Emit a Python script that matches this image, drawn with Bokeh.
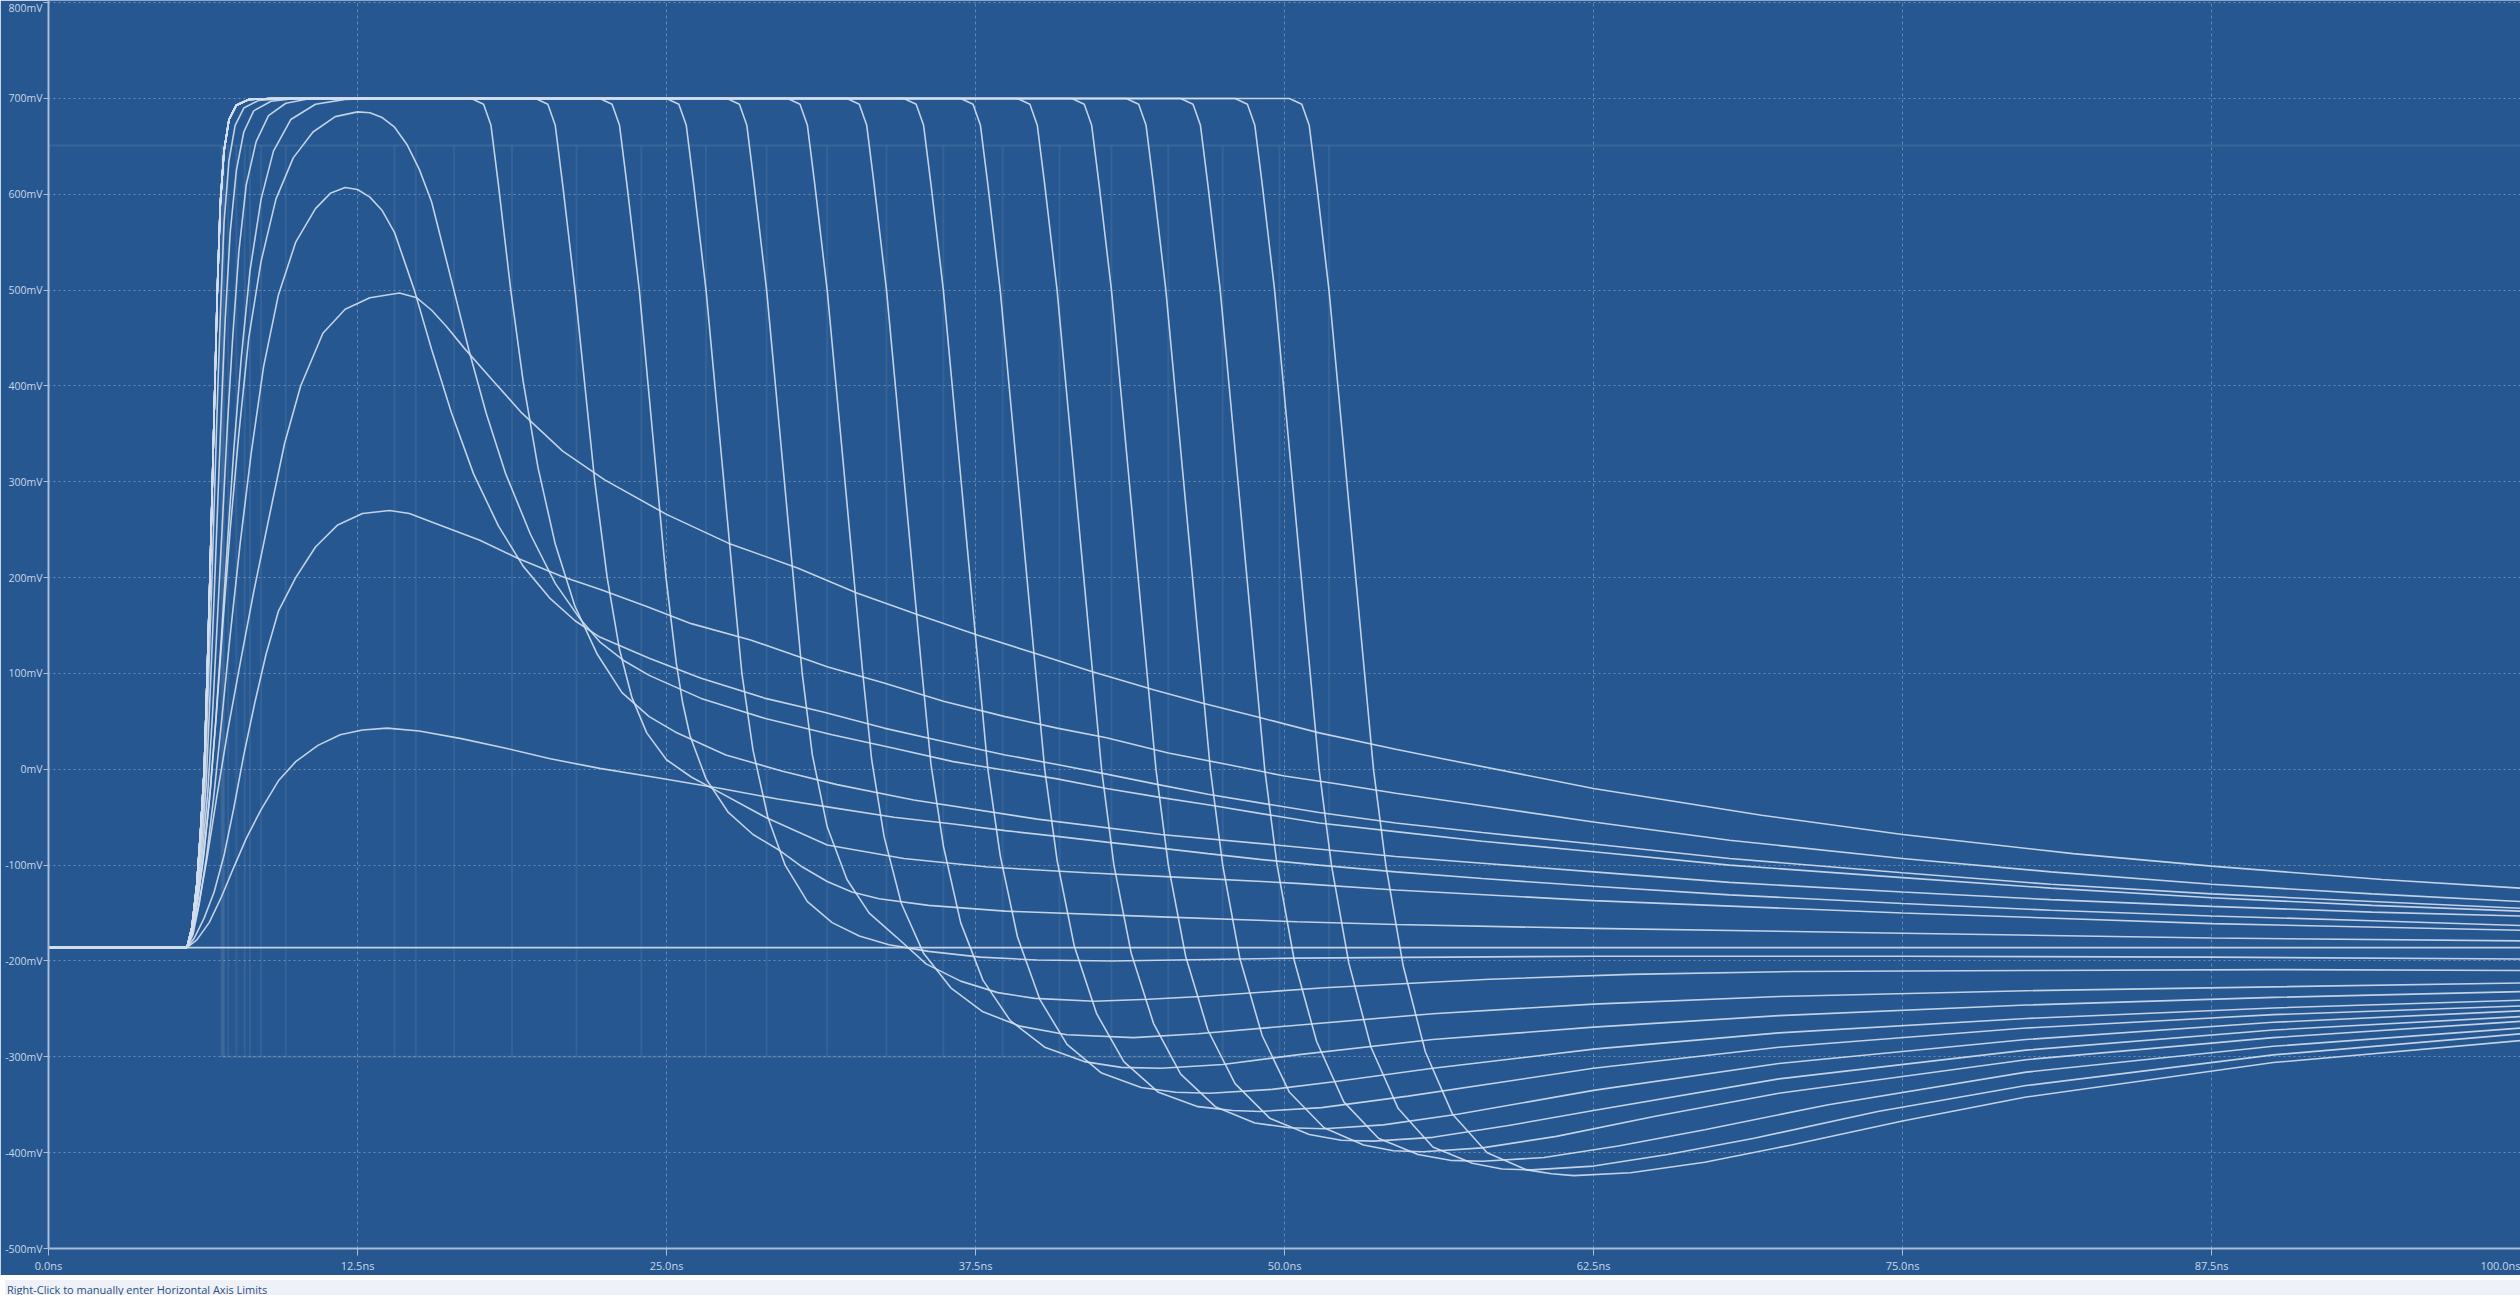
from bokeh.plotting import figure
from bokeh.models import Range1d, FixedTicker, Div
from bokeh.layouts import column
from bokeh.embed import file_html
from bokeh.resources import INLINE

# ---------------- axis ticks / labels ----------------
X_TICKS = [0, 12.5, 25, 37.5, 50, 62.5, 75, 87.5, 100]
X_LABELS = ["0.0ns", "12.5ns", "25.0ns", "37.5ns", "50.0ns", "62.5ns", "75.0ns", "87.5ns", "100.0ns"]
Y_TICKS = [-500, -400, -300, -200, -100, 0, 100, 200, 300, 400, 500, 600, 700, 800]
Y_LABELS = ["-500mV", "-400mV", "-300mV", "-200mV", "-100mV", "0mV", "100mV",
            "200mV", "300mV", "400mV", "500mV", "600mV", "700mV", "800mV"]

# ---------------- traces (time in ns, value in mV) ----------------
BASE_NS = [0, 100]
BASE_MV = [-186, -186]

A_NS = [0, 5.6, 6.0, 6.5, 7.0, 7.5, 8.0, 8.6, 9.3, 10.0, 10.9, 11.8, 12.7, 13.7, 15.0, 16.7, 18.5, 20.3, 22.3, 24.7,
        27.2, 29.5, 31.7, 34.2, 36.6, 38.7, 40.8, 42.8, 44.9, 46.9, 49.0, 51.4, 54.5, 58.0, 62.5, 68.0, 75.0, 81.0,
        87.5, 94.0, 100]
A_MV = [-186, -186, -178, -160, -133, -102, -72, -42, -12, 8, 25, 36, 41, 43, 40, 32, 22, 11, 1, -9,
        -20, -31, -40, -50, -57, -64, -70, -76, -82, -88, -94, -100, -107, -114, -122, -131, -140, -147,
        -153, -158, -163]

B_NS = [0, 5.6, 5.9, 6.3, 6.7, 7.1, 7.5, 7.9, 8.35, 8.8, 9.3, 10.0, 10.8, 11.7, 12.7, 13.8, 14.6, 15.5, 17.45, 19.0,
        20.8, 22.3, 24.2, 26.0, 28.4, 30.3, 31.5, 33.8, 36.2, 38.7, 40.8, 42.8, 45.3, 47.7, 50.0, 52.1, 54.5, 58.0,
        62.5, 68.0, 75.0, 81.0, 87.5, 94.0, 100]
B_MV = [-186, -186, -176, -155, -128, -90, -40, 15, 70, 120, 165, 200, 232, 255, 267, 270, 267, 258, 239, 220,
        201, 188, 170, 152, 135, 118, 107, 90, 71, 55, 43, 33, 17, 5, -7, -15, -25, -38,
        -55, -74, -93, -107, -120, -130, -138]

C_NS = [0, 5.6, 5.8, 6.05, 6.4, 6.8, 7.25, 7.75, 8.3, 8.9, 9.55, 10.2, 11.1, 12.0, 13.0, 14.2, 14.9, 15.5, 16.1, 16.8,
        18.0, 19.1, 20.8, 22.5, 25.0, 27.5, 30.3, 32.7, 35.2, 37.6, 39.9, 42.2, 44.7, 46.7, 49.0, 51.4, 54.5, 56.4,
        62.5, 69.3, 75.0, 81.9, 87.5, 94.4, 100]
C_MV = [-186, -186, -172, -145, -95, -30, 40, 110, 185, 260, 340, 400, 455, 480, 492, 497, 492, 479, 462, 440,
        405, 373, 332, 302, 266, 236, 210, 184, 161, 140, 121, 102, 83, 69, 54, 38, 21, 11,
        -20, -48, -68, -88, -101, -115, -124]

D_NS = [0, 5.6, 5.85, 6.1, 6.4, 6.7, 7.0, 7.35, 7.75, 8.2, 8.7, 9.3, 10.0, 10.8, 11.4, 12.0, 12.5, 13.0, 13.5, 14.0,
        14.8, 15.5, 16.3, 17.2, 18.2, 19.2, 20.3, 21.3, 22.3, 24.3, 26.4, 29.0, 31.3, 33.8, 36.2, 38.7, 40.8, 42.8,
        44.9, 46.9, 49.0, 51.4, 54.5, 58.0, 62.5, 68.0, 75.0, 81.0, 87.5, 94.0, 100]
D_MV = [-186, -186, -172, -140, -90, -25, 50, 140, 235, 330, 420, 495, 550, 585, 601, 607, 605, 597, 583, 560,
        500, 438, 372, 308, 254, 212, 178, 155, 138, 116, 95, 74, 60, 43, 29, 15, 5, -5,
        -16, -26, -35, -45, -56, -66, -78, -93, -108, -120, -130, -138, -145]

E_NS = [0, 5.6, 5.8, 6.05, 6.3, 6.55, 6.8, 7.05, 7.35, 7.7, 8.1, 8.6, 9.2, 9.9, 10.7, 11.6, 12.5, 13.0, 13.5, 14.0,
        14.5, 15.0, 15.5, 16.4, 17.0, 17.7, 18.5, 19.5, 20.5, 21.5, 22.3, 23.3, 24.3, 26.4, 29.0, 31.7, 34.2, 36.6,
        38.7, 40.8, 42.8, 44.9, 46.9, 49.0, 51.4, 54.5, 58.0, 62.5, 68.0, 75.0, 81.0, 87.5, 94.0, 100]
E_MV = [-186, -186, -170, -135, -85, -20, 60, 150, 250, 350, 450, 530, 595, 638, 665, 681, 686, 685, 680, 670,
        652, 626, 592, 500, 438, 372, 308, 245, 194, 157, 133, 113, 98, 74, 53, 36, 22, 8,
        -1, -10, -20, -29, -37, -46, -56, -65, -75, -86, -100, -113, -124, -134, -142, -148]

F_NS = [0, 5.6, 5.8, 6.0, 6.25, 6.5, 6.75, 7.0, 7.25, 7.5, 7.8, 8.15, 8.6, 9.1, 9.8, 10.8, 12.0, 13.5, 17.1, 17.6,
        17.9, 18.2, 18.7, 19.2, 19.8, 20.5, 21.3, 22.2, 23.2, 24.3, 25.35, 27.4, 29.7, 31.9, 35.0, 40.0, 45.0, 50.5,
        54.5, 58.0, 62.5, 68.0, 75.0, 81.0, 87.5, 94.0, 100]
F_MV = [-186, -186, -173, -142, -95, -35, 45, 140, 240, 335, 430, 520, 595, 645, 678, 694, 699, 700, 700, 694,
        672, 610, 500, 405, 315, 235, 170, 120, 80, 55, 39, 15, -2, -16, -32, -52, -68, -81,
        -91, -98, -107, -118, -128, -136, -143, -149, -153]

G_NS = [0, 5.6, 5.8, 6.0, 6.22, 6.44, 6.64, 6.84, 7.04, 7.24, 7.45, 7.7, 8.0, 8.4, 8.9, 9.6, 10.6, 19.7, 20.2, 20.5,
        20.8, 21.3, 21.7, 22.1, 22.6, 23.1, 23.6, 24.2, 25.0, 26.0, 27.0, 29.0, 31.5, 34.6, 38.0, 42.0, 46.0, 50.5,
        54.5, 62.5, 75.0, 87.5, 100]
G_MV = [-186, -186, -172, -138, -88, -25, 60, 160, 260, 360, 450, 540, 610, 655, 682, 695, 700, 700, 694, 672,
        610, 500, 400, 300, 200, 125, 75, 38, 10, -8, -22, -50, -79, -93, -102, -108, -113, -119,
        -126, -137, -150, -161, -168]

H_NS = [0, 5.6, 5.8, 6.0, 6.2, 6.38, 6.54, 6.7, 6.85, 7.0, 7.15, 7.35, 7.6, 7.9, 8.3, 9.0, 10.0, 22.3, 22.8, 23.1,
        23.4, 23.9, 24.26, 24.62, 24.98, 25.4, 25.65, 25.95, 26.6, 27.5, 28.5, 29.6, 30.5, 31.5, 32.5, 33.6, 35.6, 38.7,
        45.0, 50.5, 54.5, 62.5, 75.0, 87.5, 100]
H_MV = [-186, -186, -170, -133, -80, -15, 80, 180, 280, 380, 470, 560, 625, 665, 687, 697, 700, 700, 694, 672,
        610, 500, 400, 300, 200, 110, 70, 35, -10, -45, -68, -85, -102, -117, -128, -135, -142, -148,
        -154, -159, -162, -166, -171, -176, -179]

I_NS = [0, 5.6, 5.8, 6.0, 6.17, 6.33, 6.47, 6.6, 6.72, 6.84, 6.96, 7.1, 7.3, 7.55, 7.9, 8.5, 9.5, 25.0, 25.5, 25.8,
        26.1, 26.6, 26.96, 27.32, 27.68, 28.05, 28.5, 29.1, 29.8, 30.7, 31.7, 32.8, 34.0, 35.6, 37.7, 40.0, 43.0, 50.5,
        62.5, 75.0, 87.5, 100]
I_MV = [-186, -186, -168, -128, -75, -10, 90, 190, 290, 390, 480, 570, 635, 672, 690, 698, 700, 700, 694, 672,
        610, 500, 400, 300, 200, 100, 20, -50, -100, -138, -160, -174, -183, -190, -196, -199, -200, -197,
        -195, -195, -196, -198]

# common leading edge of the saturated (wide) pulses J..T
RISE_NS = [0, 5.6, 5.8, 6.0, 6.15, 6.3, 6.42, 6.53, 6.63, 6.73, 6.83, 6.95, 7.1, 7.3, 7.6, 8.1, 9.0]
RISE_MV = [-186, -186, -165, -120, -65, 0, 100, 200, 300, 400, 500, 590, 645, 678, 693, 699, 700]

J_NS = [27.45, 27.95, 28.25, 28.55, 29.05, 29.41, 29.77, 30.13, 30.49, 30.9, 31.5, 32.3, 33.2, 34.3, 35.5, 36.9,
        38.4, 39.9, 42.3, 44.5, 46.6, 51.6, 58.3, 64.0, 70.6, 80.0, 90.0, 100]
J_MV = [700, 694, 672, 610, 500, 400, 300, 200, 100, 15, -60, -115, -150, -175, -203, -221,
        -233, -239, -242, -240, -237, -228, -219, -214, -211, -210, -209, -210]
K_NS = [29.9, 30.4, 30.7, 31.0, 31.5, 31.86, 32.22, 32.58, 32.94, 33.3, 33.8, 34.5, 35.4, 36.5, 37.8, 39.3, 41.2,
        43.9, 46.5, 50.5, 56.0, 62.5, 70.0, 80.0, 90.0, 100]
K_MV = [700, 694, 672, 610, 500, 400, 300, 200, 100, 10, -70, -140, -192, -228, -253, -268, -277,
        -280, -276, -267, -255, -245, -237, -231, -227, -223]
L_NS = [32.3, 32.8, 33.1, 33.4, 33.9, 34.26, 34.62, 34.98, 35.34, 35.7, 36.2, 36.9, 37.8, 38.9, 40.3, 41.9, 43.4,
        45.0, 47.5, 50.5, 56.0, 62.5, 70.0, 80.0, 90.0, 100]
L_MV = [700, 694, 672, 610, 500, 400, 300, 200, 100, 5, -80, -160, -220, -262, -290, -305, -311,
        -312, -308, -298, -282, -269, -257, -246, -238, -232]
M_NS = [34.6, 35.1, 35.4, 35.7, 36.2, 36.56, 36.92, 37.28, 37.64, 38.0, 38.5, 39.2, 40.1, 41.2, 42.6, 44.2, 45.6,
        47.0, 49.5, 52.0, 56.0, 62.5, 70.0, 80.0, 90.0, 100]
M_MV = [700, 694, 672, 610, 500, 400, 300, 200, 100, 0, -90, -175, -240, -287, -317, -332, -337,
        -338, -334, -326, -312, -292, -275, -260, -249, -241]
N_NS = [36.9, 37.4, 37.7, 38.0, 38.5, 38.86, 39.22, 39.58, 39.94, 40.3, 40.8, 41.5, 42.4, 43.5, 44.9, 46.5, 47.9,
        49.0, 51.5, 55.0, 62.5, 70.0, 80.0, 90.0, 100]
N_MV = [700, 694, 672, 610, 500, 400, 300, 200, 100, 0, -95, -185, -255, -305, -337, -352, -356,
        -357, -353, -341, -312, -290, -270, -256, -247]
O_NS = [39.2, 39.7, 40.0, 40.3, 40.8, 41.16, 41.52, 41.88, 42.24, 42.6, 43.1, 43.8, 44.7, 45.8, 47.2, 48.8, 50.2,
        51.6, 54.0, 57.0, 62.5, 70.0, 80.0, 90.0, 100]
O_MV = [700, 694, 672, 610, 500, 400, 300, 200, 100, 0, -100, -192, -265, -318, -352, -369, -374,
        -375, -371, -360, -335, -307, -282, -264, -252]
P_NS = [41.4, 41.9, 42.2, 42.5, 43.0, 43.36, 43.72, 44.08, 44.44, 44.8, 45.3, 46.0, 46.9, 48.0, 49.4, 51.0, 52.3,
        53.6, 56.0, 59.0, 62.5, 70.0, 80.0, 90.0, 100]
P_MV = [700, 694, 672, 610, 500, 400, 300, 200, 100, 0, -100, -195, -272, -328, -364, -381, -387,
        -388, -384, -372, -356, -323, -293, -272, -258]
Q_NS = [43.6, 44.1, 44.4, 44.7, 45.2, 45.56, 45.92, 46.28, 46.64, 47.0, 47.5, 48.2, 49.1, 50.2, 51.6, 53.2, 54.4,
        55.6, 58.0, 61.0, 65.0, 70.0, 80.0, 90.0, 100]
Q_MV = [700, 694, 672, 610, 500, 400, 300, 200, 100, 0, -100, -198, -278, -337, -374, -392, -398,
        -399, -395, -383, -362, -338, -303, -280, -263]
R_NS = [45.8, 46.3, 46.6, 46.9, 47.4, 47.76, 48.12, 48.48, 48.84, 49.2, 49.7, 50.4, 51.3, 52.4, 53.8, 55.4, 56.7,
        58.0, 60.5, 63.5, 67.0, 72.0, 80.0, 90.0, 100]
R_MV = [700, 694, 672, 610, 500, 400, 300, 200, 100, 0, -100, -200, -284, -347, -385, -402, -408,
        -409, -405, -393, -376, -350, -316, -289, -270]
S_NS = [48.0, 48.5, 48.8, 49.1, 49.6, 49.96, 50.32, 50.68, 51.04, 51.4, 51.9, 52.6, 53.5, 54.6, 56.0, 57.6, 58.8,
        60.0, 62.5, 65.5, 69.0, 74.0, 80.0, 90.0, 100]
S_MV = [700, 694, 672, 610, 500, 400, 300, 200, 100, 0, -100, -202, -290, -354, -394, -411, -417,
        -418, -414, -402, -385, -357, -330, -298, -276]
T_NS = [50.2, 50.7, 51.0, 51.3, 51.8, 52.16, 52.52, 52.88, 53.24, 53.6, 54.1, 54.8, 55.7, 56.8, 58.2, 59.8, 60.8,
        61.7, 64.0, 67.0, 70.5, 75.0, 80.0, 90.0, 100]
T_MV = [700, 694, 672, 610, 500, 400, 300, 200, 100, 0, -100, -205, -295, -360, -400, -418, -422,
        -424, -421, -410, -392, -367, -342, -306, -283]

# faint drive-pulse traces (edges and levels)
IN_EDGE_NS = [7.0, 7.05, 7.1, 7.27, 7.6, 7.94, 8.15, 8.6, 9.6, 14.0, 14.86, 16.4, 18.75, 21.36, 23.98, 26.6,
              29.05, 31.5, 33.9, 36.2, 38.6, 40.9, 43.0, 45.3, 47.5, 49.8, 51.8]
IN_HIGH_MV = 651
IN_LOW_MV = -300
IN_LOW_START_NS = 7.0
IN_LOW_END_NS = 51.8

# ---------------- styling ----------------
BG = "#265790"
TRACE = "#d3dff0"
AXIS = "#a9bcd8"
LABEL = "#c9d6e9"

p = figure(width=2520, height=1275, output_backend="svg", toolbar_location=None,
           x_range=Range1d(0, 100.0), y_range=Range1d(-500, 802.2),
           min_border_left=48, min_border_right=0, min_border_top=0, min_border_bottom=26)
p.background_fill_color = BG
p.border_fill_color = BG
p.outline_line_color = None

p.xaxis.ticker = FixedTicker(ticks=X_TICKS)
p.yaxis.ticker = FixedTicker(ticks=Y_TICKS)
p.xaxis.major_label_overrides = dict(zip(X_TICKS, X_LABELS))
p.yaxis.major_label_overrides = dict(zip(Y_TICKS, Y_LABELS))
for ax in (p.xaxis[0], p.yaxis[0]):
    ax.axis_line_color = AXIS
    ax.axis_line_width = 2
    ax.major_tick_line_color = AXIS
    ax.major_tick_line_width = 1
    ax.major_tick_in = 0
    ax.minor_tick_line_color = None
    ax.major_label_text_color = LABEL
    ax.major_label_text_font = "Open Sans"
p.xaxis.major_tick_out = 7
p.xaxis.major_label_standoff = 2
p.xaxis.major_label_text_font_size = "11px"
p.yaxis.major_tick_out = 5
p.yaxis.major_label_standoff = 1
p.yaxis.major_label_text_font_size = "10.5px"

p.ygrid.grid_line_color = "#a3b8d6"
p.ygrid.grid_line_alpha = 0.55
p.ygrid.grid_line_dash = "2 3"
p.xgrid.grid_line_color = "#a3b8d6"
p.xgrid.grid_line_alpha = 0.5
p.xgrid.grid_line_dash = "3 3"

# faint drive pulses
p.segment(x0=IN_EDGE_NS, y0=[IN_LOW_MV] * len(IN_EDGE_NS), x1=IN_EDGE_NS, y1=[IN_HIGH_MV] * len(IN_EDGE_NS),
          line_color="white", line_alpha=0.07, line_width=2)
p.segment(x0=[0, IN_LOW_START_NS], y0=[IN_HIGH_MV, IN_LOW_MV], x1=[100, IN_LOW_END_NS], y1=[IN_HIGH_MV, IN_LOW_MV],
          line_color="white", line_alpha=0.09, line_width=2)

# traces
p.line(BASE_NS, BASE_MV, line_color=TRACE, line_width=1.8, line_alpha=0.9)
own = [(A_NS, A_MV), (B_NS, B_MV), (C_NS, C_MV), (D_NS, D_MV), (E_NS, E_MV), (F_NS, F_MV),
       (G_NS, G_MV), (H_NS, H_MV), (I_NS, I_MV)]
for xs, ys in own:
    p.line(xs, ys, line_color=TRACE, line_width=1.6, line_alpha=0.9)
wide = [(J_NS, J_MV), (K_NS, K_MV), (L_NS, L_MV), (M_NS, M_MV), (N_NS, N_MV), (O_NS, O_MV),
        (P_NS, P_MV), (Q_NS, Q_MV), (R_NS, R_MV), (S_NS, S_MV), (T_NS, T_MV)]
for xs, ys in wide:
    p.line(RISE_NS + xs, RISE_MV + ys, line_color=TRACE, line_width=1.6, line_alpha=0.9)

status = Div(text="Right-Click to manually enter Horizontal Axis Limits", width=2520, height=19,
             styles={"font-size": "11px", "color": "#2d4e80", "font-family": "Open Sans",
                     "line-height": "19px", "background-color": "#eef2f8", "white-space": "nowrap",
                     "padding-left": "2px"})

layout = column(p, status, spacing=0)
open("out.html", "w").write(file_html(layout, INLINE))
